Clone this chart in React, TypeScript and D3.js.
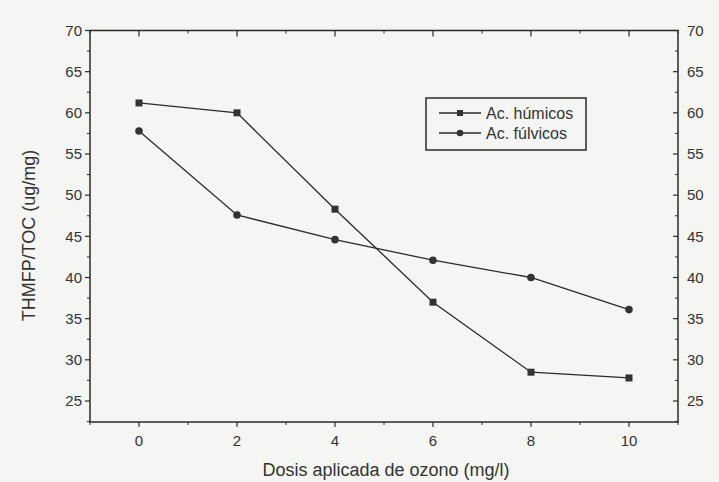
import React from "react";
import * as d3 from "d3";

const doses = [0, 2, 4, 6, 8, 10];
const humicos = [61.2, 60.0, 48.3, 37.0, 28.5, 27.8];
const fulvicos = [57.8, 47.6, 44.6, 42.1, 40.0, 36.1];
const yTicks = [25, 30, 35, 40, 45, 50, 55, 60, 65, 70];
const yMinor = [22.5, 27.5, 32.5, 37.5, 42.5, 47.5, 52.5, 57.5, 62.5, 67.5];
const xTicks = [0, 2, 4, 6, 8, 10];
const xMinor = [-1, 1, 3, 5, 7, 9, 11];
const seriesNames = ["Ac. húmicos", "Ac. fúlvicos"];

export default function App() {
  const W = 719, H = 482;
  const left = 90, right = 678, top = 30.5, bottom = 422;
  const x = d3.scaleLinear().domain([-1, 11]).range([left, right]);
  const y = d3.scaleLinear().domain([22.45, 70]).range([bottom, top]);
  const line = d3.line<number>().x((_, i) => x(doses[i])).y((d) => y(d));
  const font = "Liberation Sans, Arial, sans-serif";
  const ink = "#2a2a2a";
  const fs = 15;

  return (
    <svg width={W} height={H} style={{ position: "absolute", left: 0, top: 0, background: "#f5f5f3" }} fontFamily={font}>
      <rect x={0} y={0} width={W} height={H} fill="#f5f5f3" />
      {/* frame */}
      <rect x={left} y={top} width={right - left} height={bottom - top} fill="none" stroke={ink} strokeWidth={1.5} />
      {/* left axis ticks */}
      {yTicks.map((t) => (
        <g key={"yl" + t}>
          <line x1={left - 5} x2={left} y1={y(t)} y2={y(t)} stroke={ink} strokeWidth={1.2} />
          <text x={left - 8} y={y(t)} dy="0.35em" textAnchor="end" fontSize={fs} fill="#333">{t}</text>
          <line x1={right - 5} x2={right} y1={y(t)} y2={y(t)} stroke={ink} strokeWidth={1.2} />
          <text x={right + 9} y={y(t)} dy="0.35em" textAnchor="start" fontSize={fs} fill="#333">{t}</text>
        </g>
      ))}
      {yMinor.map((t) => (
        <g key={"ym" + t}>
          <line x1={left - 3} x2={left} y1={y(t)} y2={y(t)} stroke={ink} strokeWidth={1} />
          <line x1={right - 3} x2={right} y1={y(t)} y2={y(t)} stroke={ink} strokeWidth={1} />
        </g>
      ))}
      {xTicks.map((t) => (
        <g key={"xt" + t}>
          <line x1={x(t)} x2={x(t)} y1={bottom} y2={bottom + 5} stroke={ink} strokeWidth={1.2} />
          <line x1={x(t)} x2={x(t)} y1={top} y2={top + 6} stroke={ink} strokeWidth={1.2} />
          <text x={x(t)} y={bottom + 19} dy="0.35em" textAnchor="middle" fontSize={fs} fill="#333">{t}</text>
        </g>
      ))}
      {xMinor.map((t) => (
        <g key={"xm" + t}>
          <line x1={x(t)} x2={x(t)} y1={bottom} y2={bottom + 3} stroke={ink} strokeWidth={1} />
          <line x1={x(t)} x2={x(t)} y1={top} y2={top + 3} stroke={ink} strokeWidth={1} />
        </g>
      ))}
      {/* axis titles */}
      <text x={386} y={470} dy="0.35em" textAnchor="middle" fontSize={18} fill="#333">Dosis aplicada de ozono (mg/l)</text>
      <text transform={`translate(29,235.5) rotate(-90)`} dy="0.35em" textAnchor="middle" fontSize={18} fill="#333">THMFP/TOC (ug/mg)</text>
      {/* series */}
      <path d={line(humicos) || ""} fill="none" stroke={ink} strokeWidth={1.3} />
      <path d={line(fulvicos) || ""} fill="none" stroke={ink} strokeWidth={1.3} />
      {humicos.map((v, i) => (
        <rect key={"h" + i} x={x(doses[i]) - 3.5} y={y(v) - 3.5} width={7} height={7} fill="#333" />
      ))}
      {fulvicos.map((v, i) => (
        <circle key={"f" + i} cx={x(doses[i])} cy={y(v)} r={3.8} fill="#333" />
      ))}
      {/* legend */}
      <rect x={426} y={98} width={160} height={52} fill="none" stroke={ink} strokeWidth={1.5} />
      {seriesNames.map((n, i) => {
        const ly = 113 + i * 20;
        return (
          <g key={n}>
            <line x1={439} x2={481} y1={ly} y2={ly} stroke={ink} strokeWidth={1.3} />
            {i === 0 ? (
              <rect x={457} y={ly - 3} width={6} height={6} fill="#333" />
            ) : (
              <circle cx={460} cy={ly} r={3.3} fill="#333" />
            )}
            <text x={486} y={ly} dy="0.35em" fontSize={16} fill="#333">{n}</text>
          </g>
        );
      })}
    </svg>
  );
}
